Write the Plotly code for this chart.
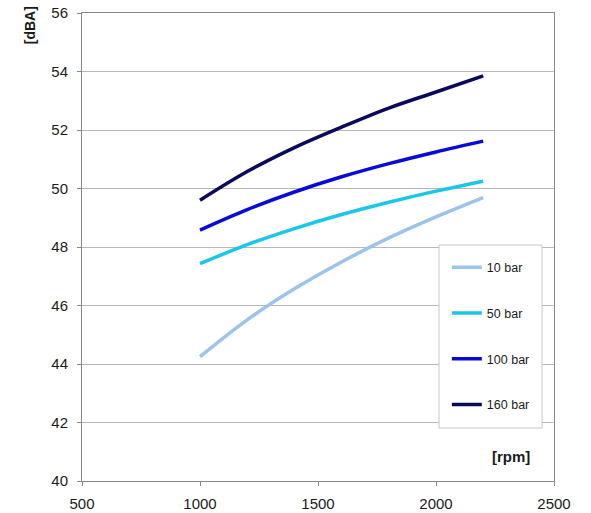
import plotly.graph_objects as go

rpm = [1000, 1200, 1400, 1600, 1800, 2000, 2200]
bar10 = [44.25, 45.51, 46.57, 47.49, 48.31, 49.03, 49.69]
bar50 = [47.43, 48.08, 48.63, 49.11, 49.53, 49.91, 50.25]
bar100 = [48.58, 49.28, 49.88, 50.40, 50.85, 51.25, 51.62]
bar160 = [49.60, 50.58, 51.40, 52.10, 52.75, 53.30, 53.85]

series = [
    ("10 bar", bar10, "#9cc3ea"),
    ("50 bar", bar50, "#1cc6e8"),
    ("100 bar", bar100, "#0a0ad8"),
    ("160 bar", bar160, "#0a0a5c"),
]

fig = go.Figure()
for i, (name, vals, col) in enumerate(series):
    fig.add_trace(go.Scatter(
        x=rpm, y=vals, name=name, mode="lines",
        line=dict(color=col, width=3.5, shape="spline"),
        legendgroup=f"g{i}",
    ))

font_family = "Liberation Sans, Arial, sans-serif"
fig.update_layout(
    width=591, height=513,
    margin=dict(l=82, r=37, t=13, b=32, autoexpand=False),
    paper_bgcolor="white", plot_bgcolor="white",
    font=dict(family=font_family, size=15, color="#1a1a1a"),
    showlegend=True,
    legend=dict(
        x=0.773, y=0.488, xanchor="left", yanchor="top",
        bgcolor="rgba(0,0,0,0)", borderwidth=0,
        font=dict(size=12.5, color="#1a1a1a"),
        tracegroupgap=26.5, itemwidth=30,
    ),
    xaxis=dict(
        range=[500, 2500], dtick=500, tick0=500, automargin=False,
        showgrid=False, showline=True, linecolor="#888888", linewidth=1,
        mirror=True, ticks="outside", ticklen=4, tickcolor="#888888",
        ticklabelstandoff=5, ticklabeloverflow="allow",
        tickfont=dict(size=15), zeroline=False,
    ),
    yaxis=dict(
        range=[40, 56], dtick=2, tick0=40, automargin=False,
        showgrid=True, gridcolor="#b8b8b8", gridwidth=1,
        showline=True, linecolor="#888888", linewidth=1,
        mirror=True, ticks="outside", ticklen=4, tickcolor="#888888",
        ticklabelstandoff=6, ticklabeloverflow="allow",
        tickfont=dict(size=15), zeroline=False,
    ),
    shapes=[
        dict(type="rect", xref="paper", yref="paper",
             x0=0.7564, x1=0.9746, y0=0.1132, y1=0.5043,
             fillcolor="white", line=dict(color="#c8c8c8", width=1),
             layer="above"),
    ],
    annotations=[
        dict(text="<b>[dBA]</b>", xref="paper", yref="paper",
             x=-0.110, y=0.974, xanchor="center", yanchor="middle",
             textangle=-90, showarrow=False, font=dict(size=14, color="#1a1a1a")),
        dict(text="<b>[rpm]</b>", xref="paper", yref="paper",
             x=0.953, y=0.053, xanchor="right", yanchor="middle",
             showarrow=False, font=dict(size=15, color="#1a1a1a")),
    ],
)

fig.write_html("out.html", config={"displayModeBar": False},
               post_script="document.body.style.margin='0';")
